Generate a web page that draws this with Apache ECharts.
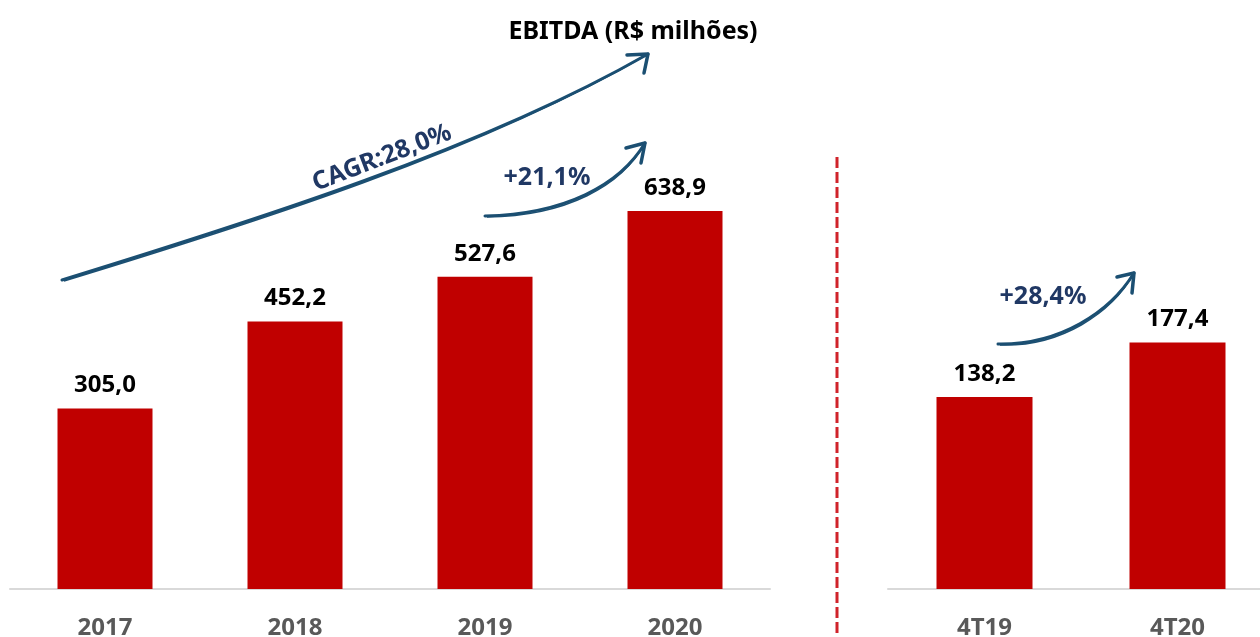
<!DOCTYPE html>
<html>
<head>
<meta charset="utf-8">
<script src="https://cdn.jsdelivr.net/npm/echarts@6/dist/echarts.min.js"></script>
<style>
html,body{margin:0;padding:0;background:#fff;}
#chart{width:1260px;height:637px;}
</style>
</head>
<body>
<div id="chart"></div>
<script>
// ---- data ----
const annualCategories = ['2017', '2018', '2019', '2020'];
const annualValues = [305.0, 452.2, 527.6, 638.9];
const quarterCategories = ['4T19', '4T20'];
const quarterValues = [138.2, 177.4];
const titleText = 'EBITDA (R$ milhões)';
const cagrText = 'CAGR:28,0%';
const annualGrowthText = '+21,1%';
const quarterGrowthText = '+28,4%';

// ---- styles ----
const FONT = '"Noto Sans", "Open Sans", sans-serif';
const BAR_COLOR = '#c00000';
const ARROW_COLOR = '#1b4f72';
const NOTE_COLOR = '#203864';

const fmt = v => v.toFixed(1).replace('.', ',');

const chart = echarts.init(document.getElementById('chart'), null, {renderer: 'canvas'});

const axisLineStyle = {show: true, lineStyle: {color: '#d9d9d9', width: 2}};
const axisLabelStyle = {color: '#595959', fontFamily: FONT, fontWeight: 'bold', fontSize: 24, margin: 27};
const valueLabel = {
  show: true, position: 'top', distance: 11,
  color: '#000', fontFamily: FONT, fontWeight: 'bold', fontSize: 24
};

function arrow(start, cp1, cp2, end, armA, armB) {
  const style = {stroke: ARROW_COLOR, lineWidth: 3, fill: null, lineCap: 'round'};
  return [
    {type: 'bezierCurve', shape: {x1: start[0], y1: start[1], cpx1: cp1[0], cpy1: cp1[1], cpx2: cp2[0], cpy2: cp2[1], x2: end[0], y2: end[1]}, style: style},
    {type: 'bezierCurve', shape: {x1: start[0] + 2, y1: start[1] + 1, cpx1: cp1[0] + 1, cpy1: cp1[1] + 2, cpx2: cp2[0] + 2, cpy2: cp2[1] + 1, x2: end[0], y2: end[1]}, style: {stroke: ARROW_COLOR, lineWidth: 1.5, fill: null}},
    {type: 'polyline', shape: {points: [armA, end, armB]}, style: {stroke: ARROW_COLOR, lineWidth: 3.5, fill: null, lineJoin: 'round', lineCap: 'round'}}
  ];
}

const graphics = [].concat(
  arrow([62, 280], [250, 222], [480, 150], [648, 54], [627, 55], [644, 73]),
  arrow([485, 216], [565, 214], [620, 185], [645, 143], [626, 148], [641, 163]),
  arrow([998, 344], [1060, 345], [1110, 312], [1134, 273], [1117, 277], [1132, 293]),
  [
    {type: 'text', x: 382, y: 158, rotation: 21 * Math.PI / 180, originX: 0, originY: 0,
     style: {text: cagrText, fill: NOTE_COLOR, font: 'bold 25px ' + FONT, textAlign: 'center', textVerticalAlign: 'middle'}},
    {type: 'text', x: 547, y: 178,
     style: {text: annualGrowthText, fill: NOTE_COLOR, font: 'bold 25px ' + FONT, textAlign: 'center', textVerticalAlign: 'middle'}},
    {type: 'text', x: 1043, y: 297,
     style: {text: quarterGrowthText, fill: NOTE_COLOR, font: 'bold 25px ' + FONT, textAlign: 'center', textVerticalAlign: 'middle'}},
    {type: 'line', shape: {x1: 837, y1: 157, x2: 837, y2: 640},
     style: {stroke: '#d0232a', lineWidth: 3, lineDash: [11, 4]}}
  ]
);

chart.setOption({
  animation: false,
  backgroundColor: '#ffffff',
  title: {
    text: titleText, left: 628, top: 14, textAlign: 'center',
    textStyle: {color: '#000', fontFamily: FONT, fontWeight: 'bold', fontSize: 25}
  },
  grid: [
    {left: 10, width: 760, top: 115.6, height: 473.4, outerBoundsMode: 'none', containLabel: false},
    {left: 888, right: 0, top: 172.3, height: 416.7, outerBoundsMode: 'none', containLabel: false}
  ],
  xAxis: [
    {type: 'category', gridIndex: 0, data: annualCategories,
     axisLine: axisLineStyle, axisTick: {show: false}, axisLabel: axisLabelStyle},
    {type: 'value', gridIndex: 1, min: -0.5, max: -0.5 + 372 / 193,
     splitLine: {show: false},
     axisLine: axisLineStyle,
     axisTick: {show: false},
     axisLabel: Object.assign({}, axisLabelStyle, {
       customValues: quarterCategories.map((c, i) => i),
       formatter: v => quarterCategories[Math.round(v)] || ''
     })}
  ],
  yAxis: [
    {type: 'value', gridIndex: 0, min: 0, max: 800, show: false, splitLine: {show: false}},
    {type: 'value', gridIndex: 1, min: 0, max: 300, show: false, splitLine: {show: false}}
  ],
  series: [
    {type: 'bar', xAxisIndex: 0, yAxisIndex: 0, data: annualValues, barWidth: '50%',
     itemStyle: {color: BAR_COLOR}, silent: true,
     label: Object.assign({}, valueLabel, {formatter: p => fmt(p.value)})},
    {type: 'bar', xAxisIndex: 1, yAxisIndex: 1, data: quarterValues.map((v, i) => [i, v]), barWidth: 96,
     itemStyle: {color: BAR_COLOR}, silent: true,
     label: Object.assign({}, valueLabel, {formatter: p => fmt(p.value[1])})}
  ],
  graphic: graphics
});
</script>
</body>
</html>
